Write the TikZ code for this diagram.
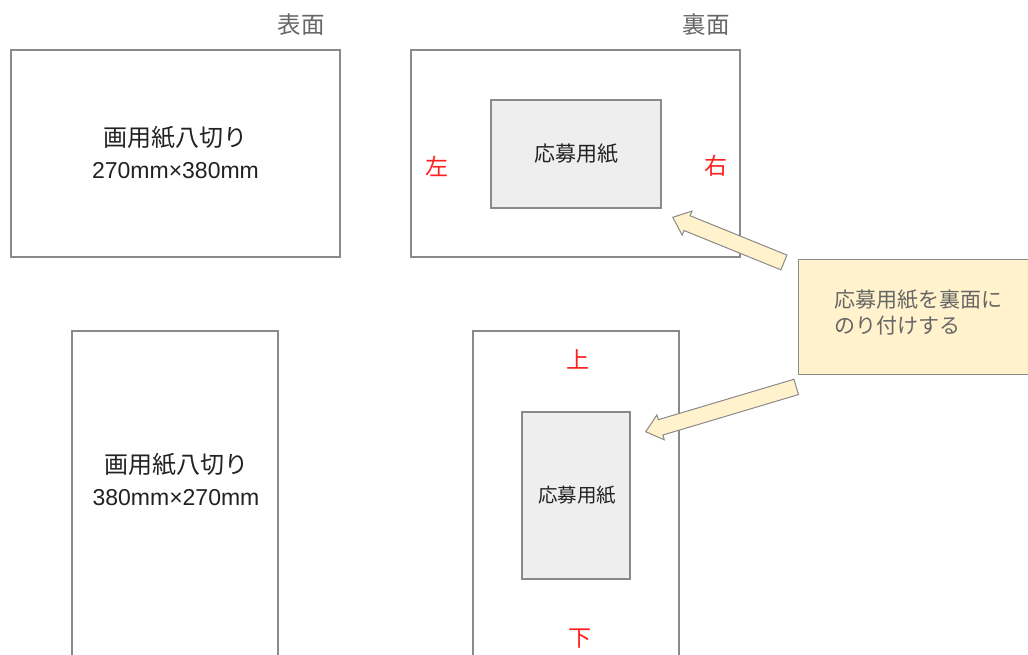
\documentclass[tikz,border=0pt]{standalone}
\usepackage{fontspec}
\setmainfont{Noto Sans CJK JP}
\newfontfamily\latinfont{Liberation Sans}
\usetikzlibrary{shapes.arrows,calc}
\definecolor{edge}{HTML}{8A8A8A}
\definecolor{inner}{HTML}{EEEEEE}
\definecolor{note}{HTML}{FFF2CC}
\definecolor{txt}{HTML}{222222}
\definecolor{soft}{HTML}{666666}
\definecolor{mark}{HTML}{FF2020}
\tikzset{
  sheet/.style={draw=edge, line width=1.3pt, fill=white},
  pasted/.style={draw=edge, line width=1.3pt, fill=inner},
  notebox/.style={draw=edge, line width=1.3pt, fill=note},
  blockarrow/.style={single arrow, draw=edge, line width=1pt, fill=note, inner sep=7.5pt,
    single arrow head extend=5pt, single arrow tip angle=80, anchor=tip},
  side/.style={text=mark, font=\fontsize{23}{23}\selectfont},
  face/.style={text=soft, font=\fontsize{23.5}{23.5}\selectfont},
  sizetext/.style={text=txt, align=center, font=\fontsize{24}{32}\selectfont},
}
\newcommand\latinsize{\latinfont\fontsize{23}{32}\selectfont}
\begin{document}
\begin{tikzpicture}[x=1pt,y=-1pt]
\useasboundingbox (0,0) rectangle (1028,655);
\clip (0,0) rectangle (1028,655);
% top row
\draw[sheet] (11,50) rectangle (340,257);
\node[sizetext] (t1) at (175.5,153) {画用紙八切り\\{\latinsize 270mm×380mm}};
\node[face] (f1) at (301,25) {表面};
\draw[sheet] (411,50) rectangle (740,257);
\draw[pasted] (491,100) rectangle (661,208);
\node[text=txt, font=\fontsize{21}{21}\selectfont] (p1) at (576,154) {応募用紙};
\node[face] (f2) at (706,25) {裏面};
\node[side] (l) at (437,166) {左};
\node[side] (r) at (716,166) {右};
% bottom row
\draw[sheet] (72,331) rectangle (278,700);
\node[sizetext] (t2) at (176,480) {画用紙八切り\\{\latinsize 380mm×270mm}};
\draw[sheet] (473,331) rectangle (679,700);
\draw[pasted] (522,412) rectangle (630,579);
\node[text=txt, font=\fontsize{19.5}{19.5}\selectfont] (p2) at (577,495) {応募用紙};
\node[side] (u) at (578,359) {上};
\node[side] (d) at (580,639) {下};
% note
\node[notebox, minimum width=260pt, minimum height=115pt, anchor=north west] (n) at (798,259) {};
\node[text=soft, align=left, anchor=north west, font=\fontsize{21}{26}\selectfont] (nt) at (831,286) {応募用紙を裏面に\\のり付けする};
% arrows
\coordinate (a1) at (672,217);
\coordinate (a2) at (645,432);
\node[blockarrow, minimum height=120pt, rotate=157.9] (ar1) at (a1) {};
\node[blockarrow, minimum height=157pt, rotate=196.6] (ar2) at (a2) {};
\end{tikzpicture}
\end{document}
